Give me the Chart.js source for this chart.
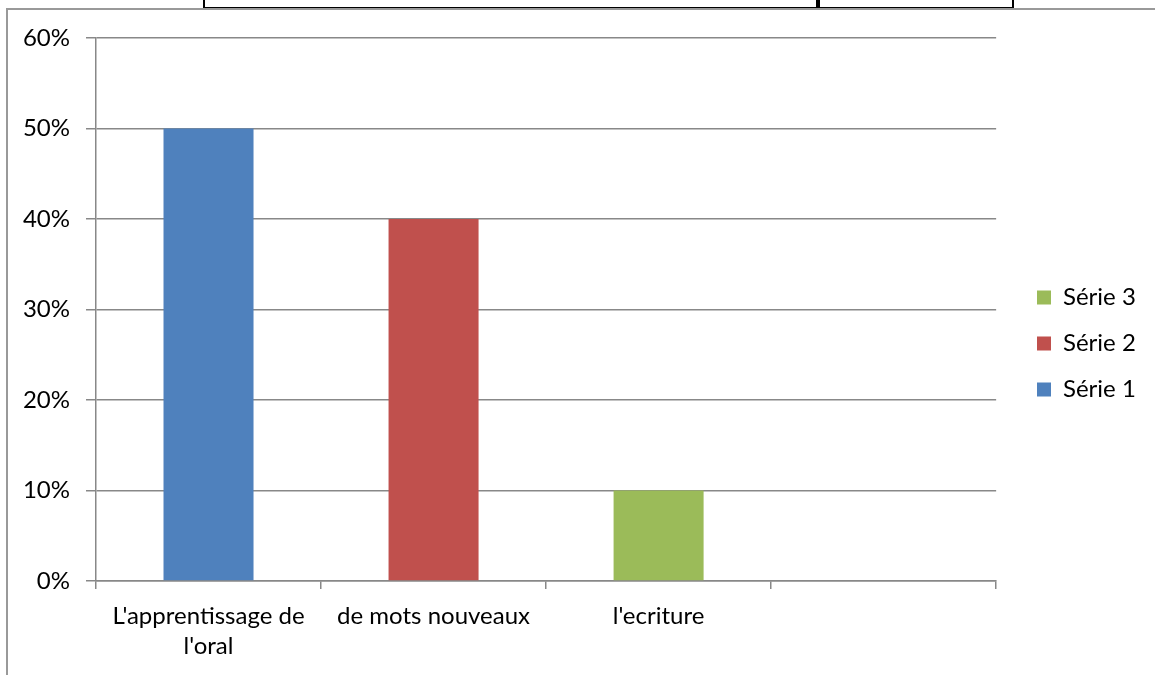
<!DOCTYPE html>
<html>
<head>
<meta charset="utf-8">
<script src="https://cdn.jsdelivr.net/npm/chart.js@4"></script>
<style>
  html, body { margin: 0; padding: 0; background: #fff; }
  #page { position: relative; width: 1155px; height: 675px; overflow: hidden; }
  #chart { position: absolute; left: 0; top: 0; }
  .table-box { position: absolute; top: -4px; height: 9px; border: 2px solid #000; }
  .frame-top { position: absolute; left: 6px; top: 8px; width: 1149px; height: 0; border-top: 2px solid #999; }
  .frame-left { position: absolute; left: 6px; top: 8px; width: 0; height: 667px; border-left: 2px solid #999; }
</style>
</head>
<body>
<div id="page">
  <div class="table-box" style="left:203px; width:613px;"></div>
  <div class="table-box" style="left:816px; width:194px;"></div>
  <div class="frame-top"></div>
  <div class="frame-left"></div>
  <canvas id="chart" width="1155" height="675"></canvas>
</div>
<script>
// categories (last one is empty in the original)
const categories = [["L'apprentissage de", "l'oral"], "de mots nouveaux", "l'ecriture", ""];
// values in percent
const serie1 = [50, null, null, null];
const serie2 = [null, 40, null, null];
const serie3 = [null, null, 10, null];
const yTicks = [0, 10, 20, 30, 40, 50, 60];

const FONT = "Lato, 'Open Sans', sans-serif";
const FSIZE = 24;
const GRID = "#888888";

// nudge the legend to where Excel put it
const legendNudge = {
  id: "legendNudge",
  afterLayout(chart) {
    const lg = chart.legend;
    if (!lg) return;
    const dx = 1037 - (lg.left + lg.options.labels.padding);
    lg.left += dx; lg.right += dx;
    lg.top -= 13; lg.bottom -= 13;
  },
};

new Chart(document.getElementById("chart"), {
  type: "bar",
  data: {
    labels: categories,
    datasets: [
      { label: "Série 1", data: serie1, backgroundColor: "#4F81BD" },
      { label: "Série 2", data: serie2, backgroundColor: "#C0504D" },
      { label: "Série 3", data: serie3, backgroundColor: "#9BBB59" },
    ],
  },
  options: {
    responsive: false,
    animation: false,
    skipNull: true,
    categoryPercentage: 1,
    barPercentage: 0.4,
    layout: { padding: { top: 38, right: 28, bottom: 0, left: 0 } },
    plugins: {
      tooltip: { enabled: false },
      legend: {
        position: "right",
        reverse: true,
        labels: {
          boxWidth: 14,
          boxHeight: 14,
          padding: 22,
          color: "#000",
          font: { family: FONT, size: FSIZE },
        },
      },
    },
    scales: {
      x: {
        grid: {
          offset: true,
          drawOnChartArea: false,
          color: GRID,
          tickLength: 8,
          lineWidth: 1.5,
        },
        border: { color: GRID, width: 1.5 },
        ticks: {
          color: "#000",
          padding: 13,
          maxRotation: 0,
          autoSkip: false,
          font: { family: FONT, size: FSIZE, lineHeight: 1.22 },
        },
        afterFit(scale) { scale.height = 94; },
      },
      y: {
        min: 0,
        max: 60,
        afterBuildTicks(scale) { scale.ticks = yTicks.map(v => ({ value: v })); },
        grid: { color: GRID, tickLength: 10, lineWidth: 1.5 },
        border: { color: GRID, width: 1.5 },
        ticks: {
          color: "#000",
          padding: 16,
          font: { family: FONT, size: FSIZE },
          callback: v => v + "%",
        },
        afterFit(scale) { scale.width = 96; },
      },
    },
  },
  plugins: [legendNudge],
});
</script>
</body>
</html>
